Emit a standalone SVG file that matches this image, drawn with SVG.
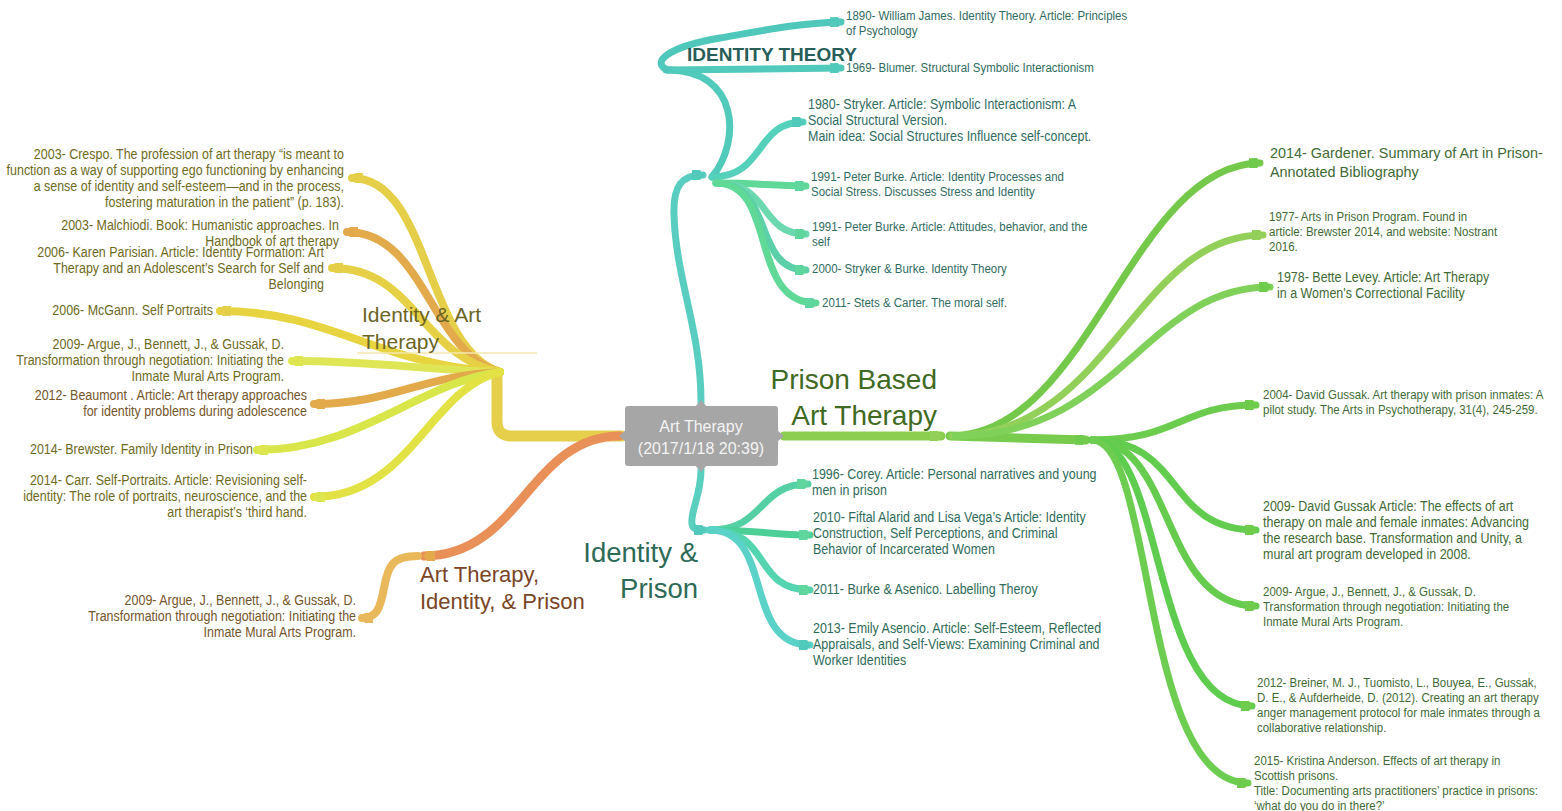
<svg xmlns="http://www.w3.org/2000/svg" width="1562" height="811" viewBox="0 0 1562 811">
<style>
  text { font-family: "Liberation Sans", Arial, sans-serif; }
  .leaf { font-size: 13.5px; }
  .lg { font-size: 14.5px; }
  .tc { fill: #2f6b5f; }
  .ip { fill: #2f6b5a; }
  .rg { fill: #3f6a35; }
  .ol { fill: #6e6a22; }
  .br { fill: #74552a; }
  .end { text-anchor: end; }
  .c { fill: none; stroke-linecap: round; stroke-linejoin: round; }
</style>
<defs>
  <marker id="mY" viewBox="0 0 12 10" refX="11" refY="5" markerWidth="12" markerHeight="10" markerUnits="userSpaceOnUse" orient="auto"><path d="M0,0 L8,0 L12,5 L8,10 L0,10 Z" fill="#e6cf48"/></marker>
  <marker id="mO" viewBox="0 0 12 10" refX="11" refY="5" markerWidth="12" markerHeight="10" markerUnits="userSpaceOnUse" orient="auto"><path d="M0,0 L8,0 L12,5 L8,10 L0,10 Z" fill="#e3aa4c"/></marker>
  <marker id="mL" viewBox="0 0 12 10" refX="11" refY="5" markerWidth="12" markerHeight="10" markerUnits="userSpaceOnUse" orient="auto"><path d="M0,0 L8,0 L12,5 L8,10 L0,10 Z" fill="#dde64e"/></marker>
  <marker id="mS" viewBox="0 0 12 10" refX="11" refY="5" markerWidth="12" markerHeight="10" markerUnits="userSpaceOnUse" orient="auto"><path d="M0,0 L8,0 L12,5 L8,10 L0,10 Z" fill="#e8b85a"/></marker>
  <marker id="mT" viewBox="0 0 12 10" refX="11" refY="5" markerWidth="12" markerHeight="10" markerUnits="userSpaceOnUse" orient="auto"><path d="M0,0 L8,0 L12,5 L8,10 L0,10 Z" fill="#52cabb"/></marker>
  <marker id="mM" viewBox="0 0 12 10" refX="11" refY="5" markerWidth="12" markerHeight="10" markerUnits="userSpaceOnUse" orient="auto"><path d="M0,0 L8,0 L12,5 L8,10 L0,10 Z" fill="#5ed69e"/></marker>
  <marker id="mG" viewBox="0 0 12 10" refX="11" refY="5" markerWidth="12" markerHeight="10" markerUnits="userSpaceOnUse" orient="auto"><path d="M0,0 L8,0 L12,5 L8,10 L0,10 Z" fill="#6fcb4c"/></marker>
  <marker id="mG2" viewBox="0 0 12 10" refX="11" refY="5" markerWidth="12" markerHeight="10" markerUnits="userSpaceOnUse" orient="auto"><path d="M0,0 L8,0 L12,5 L8,10 L0,10 Z" fill="#93d05a"/></marker>
</defs>
<rect width="1562" height="811" fill="#ffffff"/>

<g id="connectors">
  <!-- left: identity & art therapy -->
  <path class="c" d="M622,436 L512,436 Q497,436 497,422 L497,372" stroke="#e6cf4a" stroke-width="11"/>
  <path class="c" d="M500,372 C425,348 430,178 352,178" stroke="#e6cf48" stroke-width="8" marker-end="url(#mY)"/>
  <path class="c" d="M500,372 C430,352 425,232 347,232" stroke="#e3aa4c" stroke-width="8" marker-end="url(#mO)"/>
  <path class="c" d="M500,372 C420,356 415,268 332,268" stroke="#e6d046" stroke-width="8" marker-end="url(#mY)"/>
  <path class="c" d="M500,372 C380,366 330,311 220,311" stroke="#e8d440" stroke-width="8" marker-end="url(#mY)"/>
  <path class="c" d="M500,372 C420,370 380,361 292,361" stroke="#dfe655" stroke-width="8" marker-end="url(#mL)"/>
  <path class="c" d="M500,372 C420,376 390,404 314,404" stroke="#e3aa4c" stroke-width="8" marker-end="url(#mO)"/>
  <path class="c" d="M500,372 C420,382 360,450 257,450" stroke="#d8e64a" stroke-width="8" marker-end="url(#mL)"/>
  <path class="c" d="M500,372 C430,388 410,497 314,497" stroke="#e2e244" stroke-width="8" marker-end="url(#mL)"/>
  <line x1="357" y1="353" x2="537" y2="353" stroke="#f3e7ae" stroke-width="1.5"/>

  <!-- art therapy, identity & prison -->
  <path class="c" d="M620,436 C530,436 520,556 424,556" stroke="#e98f58" stroke-width="9" marker-end="url(#mO)"/>
  <path class="c" d="M418,556 C392,556 388,566 384,588 C380,610 376,618 362,618" stroke="#e8b85a" stroke-width="8" marker-end="url(#mS)"/>

  <!-- identity theory -->
  <path class="c" d="M701,402 C701,330 676,280 674,215 C673,185 682,175 703,175" stroke="#58cdc0" stroke-width="7" marker-end="url(#mT)"/>
  <path class="c" d="M712,177 C742,140 738,70 668,70" stroke="#52cabb" stroke-width="7"/>
  <path class="c" d="M666,70 L841,68" stroke="#52cabb" stroke-width="7" marker-end="url(#mT)"/>
  <path class="c" d="M668,70 C652,64 662,48 720,38 C765,30 800,23 841,22" stroke="#4fc8bb" stroke-width="7" marker-end="url(#mT)"/>
  <path class="c" d="M712,177 C765,177 755,122 803,122" stroke="#55d0bb" stroke-width="7" marker-end="url(#mT)"/>
  <path class="c" d="M716,183 C760,183 770,186 806,186" stroke="#5fd898" stroke-width="7" marker-end="url(#mM)"/>
  <path class="c" d="M716,183 C772,183 758,234 806,234" stroke="#6cd8b0" stroke-width="7" marker-end="url(#mM)"/>
  <path class="c" d="M716,183 C775,183 752,270 806,270" stroke="#5cd0a8" stroke-width="7" marker-end="url(#mM)"/>
  <path class="c" d="M716,183 C778,183 748,303 816,303" stroke="#5fd898" stroke-width="7" marker-end="url(#mM)"/>

  <!-- identity & prison -->
  <path class="c" d="M701,470 C701,495 690,512 692,524 C693,530 698,530 705,530" stroke="#5acfc0" stroke-width="7" marker-end="url(#mT)"/>
  <path class="c" d="M710,530 C765,530 758,484 808,484" stroke="#55d0a5" stroke-width="7" marker-end="url(#mM)"/>
  <path class="c" d="M710,530 C760,530 770,535 810,535" stroke="#4dcf98" stroke-width="7" marker-end="url(#mM)"/>
  <path class="c" d="M710,530 C772,530 752,590 810,590" stroke="#55d4b0" stroke-width="7" marker-end="url(#mM)"/>
  <path class="c" d="M710,530 C775,530 742,645 810,645" stroke="#5ad2c8" stroke-width="7" marker-end="url(#mT)"/>

  <!-- prison based art therapy -->
  <path class="c" d="M784,436 L941,436" stroke="#8ccf50" stroke-width="9" marker-end="url(#mG2)"/>
  <path class="c" d="M950,436 L1086,440" stroke="#77cc4e" stroke-width="9" marker-end="url(#mG)"/>
  <path class="c" d="M950,436 C1090,436 1130,165 1260,163" stroke="#74c94a" stroke-width="7" marker-end="url(#mG)"/>
  <path class="c" d="M952,436 C1110,436 1135,235 1263,235" stroke="#93d05a" stroke-width="7" marker-end="url(#mG2)"/>
  <path class="c" d="M955,436 C1120,436 1145,287 1270,287" stroke="#7fd15a" stroke-width="7" marker-end="url(#mG)"/>
  <path class="c" d="M1092,440 C1180,440 1180,405 1256,405" stroke="#6ccc4e" stroke-width="7" marker-end="url(#mG)"/>
  <path class="c" d="M1092,440 C1185,440 1165,530 1256,530" stroke="#62cc4e" stroke-width="7" marker-end="url(#mG)"/>
  <path class="c" d="M1092,440 C1175,440 1160,606 1256,606" stroke="#66cc4e" stroke-width="7" marker-end="url(#mG)"/>
  <path class="c" d="M1092,440 C1165,440 1150,706 1252,706" stroke="#5ecc4e" stroke-width="7" marker-end="url(#mG)"/>
  <path class="c" d="M1092,440 C1155,440 1140,783 1248,783" stroke="#6ccd50" stroke-width="7" marker-end="url(#mG)"/>
</g>

<g id="center">
  <polygon points="695,407 701,400 707,407" fill="#a6a6a6"/>
  <polygon points="695,465 701,472 707,465" fill="#a6a6a6"/>
  <polygon points="626,430 619,436 626,442" fill="#a6a6a6"/>
  <polygon points="777,430 784,436 777,442" fill="#a6a6a6"/>
  <rect x="625" y="406" width="153" height="60" rx="3" fill="#a6a6a6"/>
  <text x="701" y="432" text-anchor="middle" font-size="16" fill="#f4f4f4">Art Therapy</text>
  <text x="701" y="454" text-anchor="middle" font-size="16" fill="#f4f4f4">(2017/1/18 20:39)</text>
</g>

<g id="identity-theory">
  <text x="687" y="61" font-size="19" font-weight="bold" fill="#275e58">IDENTITY THEORY</text>
</g>
<g id="it-1890" class="leaf tc" transform="translate(846,0) scale(0.85,1)"><text x="0" y="20">1890- William James. Identity Theory. Article: Principles</text><text x="0" y="35">of Psychology</text></g>
<g id="it-1969" class="leaf tc" transform="translate(846,0) scale(0.85,1)"><text x="0" y="72">1969- Blumer. Structural Symbolic Interactionism</text></g>
<g id="it-1980" class="leaf lg tc" transform="translate(808,0) scale(0.86,1)"><text x="0" y="109">1980- Stryker. Article: Symbolic Interactionism: A</text><text x="0" y="125">Social Structural Version.</text><text x="0" y="141">Main idea: Social Structures Influence self-concept.</text></g>
<g id="it-1991a" class="leaf tc" transform="translate(811,0) scale(0.85,1)"><text x="0" y="181">1991- Peter Burke. Article: Identity Processes and</text><text x="0" y="196">Social Stress. Discusses Stress and Identity</text></g>
<g id="it-1991b" class="leaf tc" transform="translate(812,0) scale(0.85,1)"><text x="0" y="231">1991- Peter Burke. Article: Attitudes, behavior, and the</text><text x="0" y="246">self</text></g>
<g id="it-2000" class="leaf tc" transform="translate(812,0) scale(0.85,1)"><text x="0" y="273">2000- Stryker &amp; Burke. Identity Theory</text></g>
<g id="it-2011" class="leaf tc" transform="translate(822,0) scale(0.85,1)"><text x="0" y="307">2011- Stets &amp; Carter. The moral self.</text></g>

<g id="identity-art-therapy">
  <text x="362" y="322" font-size="21" fill="#6b6425">Identity &amp; Art</text>
  <text x="362" y="349" font-size="21" fill="#6b6425">Therapy</text>
</g>
<g id="iat-crespo" class="leaf lg ol end" transform="translate(344,0) scale(0.86,1)"><text x="0" y="159">2003- Crespo. The profession of art therapy “is meant to</text><text x="0" y="175">function as a way of supporting ego functioning by enhancing</text><text x="0" y="191">a sense of identity and self-esteem—and in the process,</text><text x="0" y="207">fostering maturation in the patient” (p. 183).</text></g>
<g id="iat-malchiodi" class="leaf lg ol end" transform="translate(339,0) scale(0.86,1)"><text x="0" y="230">2003- Malchiodi. Book: Humanistic approaches. In</text><text x="0" y="246">Handbook of art therapy</text></g>
<g id="iat-parisian" class="leaf lg ol end" transform="translate(324,0) scale(0.86,1)"><text x="0" y="257">2006- Karen Parisian. Article: Identity Formation: Art</text><text x="0" y="273">Therapy and an Adolescent’s Search for Self and</text><text x="0" y="289">Belonging</text></g>
<g id="iat-mcgann" class="leaf lg ol end" transform="translate(213,0) scale(0.86,1)"><text x="0" y="315">2006- McGann. Self Portraits</text></g>
<g id="iat-argue" class="leaf lg ol end" transform="translate(284,0) scale(0.86,1)"><text x="0" y="349">2009- Argue, J., Bennett, J., &amp; Gussak, D.</text><text x="0" y="365">Transformation through negotiation: Initiating the</text><text x="0" y="381">Inmate Mural Arts Program.</text></g>
<g id="iat-beaumont" class="leaf lg br end" transform="translate(307,0) scale(0.86,1)"><text x="0" y="400">2012- Beaumont . Article: Art therapy approaches</text><text x="0" y="416">for identity problems during adolescence</text></g>
<g id="iat-brewster" class="leaf lg ol end" transform="translate(253,0) scale(0.86,1)"><text x="0" y="454">2014- Brewster. Family Identity in Prison</text></g>
<g id="iat-carr" class="leaf lg ol end" transform="translate(307,0) scale(0.86,1)"><text x="0" y="485">2014- Carr. Self-Portraits. Article: Revisioning self-</text><text x="0" y="501">identity: The role of portraits, neuroscience, and the</text><text x="0" y="517">art therapist’s ‘third hand.</text></g>

<g id="art-therapy-identity-prison">
  <text x="420" y="582" font-size="22" fill="#7a4526">Art Therapy,</text>
  <text x="420" y="609" font-size="22" fill="#7a4526">Identity, &amp; Prison</text>
</g>
<g id="atip-argue" class="leaf lg br end" transform="translate(356,0) scale(0.86,1)"><text x="0" y="605">2009- Argue, J., Bennett, J., &amp; Gussak, D.</text><text x="0" y="621">Transformation through negotiation: Initiating the</text><text x="0" y="637">Inmate Mural Arts Program.</text></g>

<g id="identity-prison">
  <text x="698" y="562" font-size="27.5" text-anchor="end" fill="#2d6a58">Identity &amp;</text>
  <text x="698" y="598" font-size="27.5" text-anchor="end" fill="#2d6a58">Prison</text>
</g>
<g id="ip-1996" class="leaf lg ip" transform="translate(812,0) scale(0.86,1)"><text x="0" y="479">1996- Corey. Article: Personal narratives and young</text><text x="0" y="495">men in prison</text></g>
<g id="ip-2010" class="leaf lg ip" transform="translate(813,0) scale(0.86,1)"><text x="0" y="522">2010- Fiftal Alarid and Lisa Vega’s Article: Identity</text><text x="0" y="538">Construction, Self Perceptions, and Criminal</text><text x="0" y="554">Behavior of Incarcerated Women</text></g>
<g id="ip-2011" class="leaf lg ip" transform="translate(813,0) scale(0.86,1)"><text x="0" y="594">2011- Burke &amp; Asenico. Labelling Theroy</text></g>
<g id="ip-2013" class="leaf lg ip" transform="translate(813,0) scale(0.86,1)"><text x="0" y="633">2013- Emily Asencio. Article: Self-Esteem, Reflected</text><text x="0" y="649">Appraisals, and Self-Views: Examining Criminal and</text><text x="0" y="665">Worker Identities</text></g>

<g id="prison-based-art-therapy">
  <text x="937" y="389" font-size="28" text-anchor="end" fill="#3f6a22">Prison Based</text>
  <text x="937" y="425" font-size="28" text-anchor="end" fill="#3f6a22">Art Therapy</text>
</g>
<g id="pb-gardener" class="rg"><text x="1270" y="158" font-size="14.4">2014- Gardener. Summary of Art in Prison-</text><text x="1270" y="177" font-size="14.4">Annotated Bibliography</text></g>
<g id="pb-1977" class="leaf rg" transform="translate(1269,0) scale(0.85,1)"><text x="0" y="221">1977- Arts in Prison Program. Found in</text><text x="0" y="236">article: Brewster 2014, and website: Nostrant</text><text x="0" y="251">2016.</text></g>
<g id="pb-1978" class="leaf lg rg" transform="translate(1277,0) scale(0.86,1)"><text x="0" y="282">1978- Bette Levey. Article: Art Therapy</text><text x="0" y="298">in a Women's Correctional Facility</text></g>
<g id="pb-2004" class="leaf rg" transform="translate(1263,0) scale(0.85,1)"><text x="0" y="399">2004- David Gussak. Art therapy with prison inmates: A</text><text x="0" y="414">pilot study. The Arts in Psychotherapy, 31(4), 245-259.</text></g>
<g id="pb-2009a" class="leaf lg rg" transform="translate(1263,0) scale(0.86,1)"><text x="0" y="511">2009- David Gussak Article: The effects of art</text><text x="0" y="527">therapy on male and female inmates: Advancing</text><text x="0" y="543">the research base. Transformation and Unity, a</text><text x="0" y="559">mural art program developed in 2008.</text></g>
<g id="pb-2009b" class="leaf rg" transform="translate(1263,0) scale(0.85,1)"><text x="0" y="596">2009- Argue, J., Bennett, J., &amp; Gussak, D.</text><text x="0" y="611">Transformation through negotiation: Initiating the</text><text x="0" y="626">Inmate Mural Arts Program.</text></g>
<g id="pb-2012" class="leaf rg" transform="translate(1257,0) scale(0.85,1)"><text x="0" y="687">2012- Breiner, M. J., Tuomisto, L., Bouyea, E., Gussak,</text><text x="0" y="702">D. E., &amp; Aufderheide, D. (2012). Creating an art therapy</text><text x="0" y="717">anger management protocol for male inmates through a</text><text x="0" y="732">collaborative relationship.</text></g>
<g id="pb-2015" class="leaf rg" transform="translate(1254,0) scale(0.85,1)"><text x="0" y="765">2015- Kristina Anderson. Effects of art therapy in</text><text x="0" y="780">Scottish prisons.</text><text x="0" y="795">Title: Documenting arts practitioners’ practice in prisons:</text><text x="0" y="810">‘what do you do in there?’</text></g>
</svg>
